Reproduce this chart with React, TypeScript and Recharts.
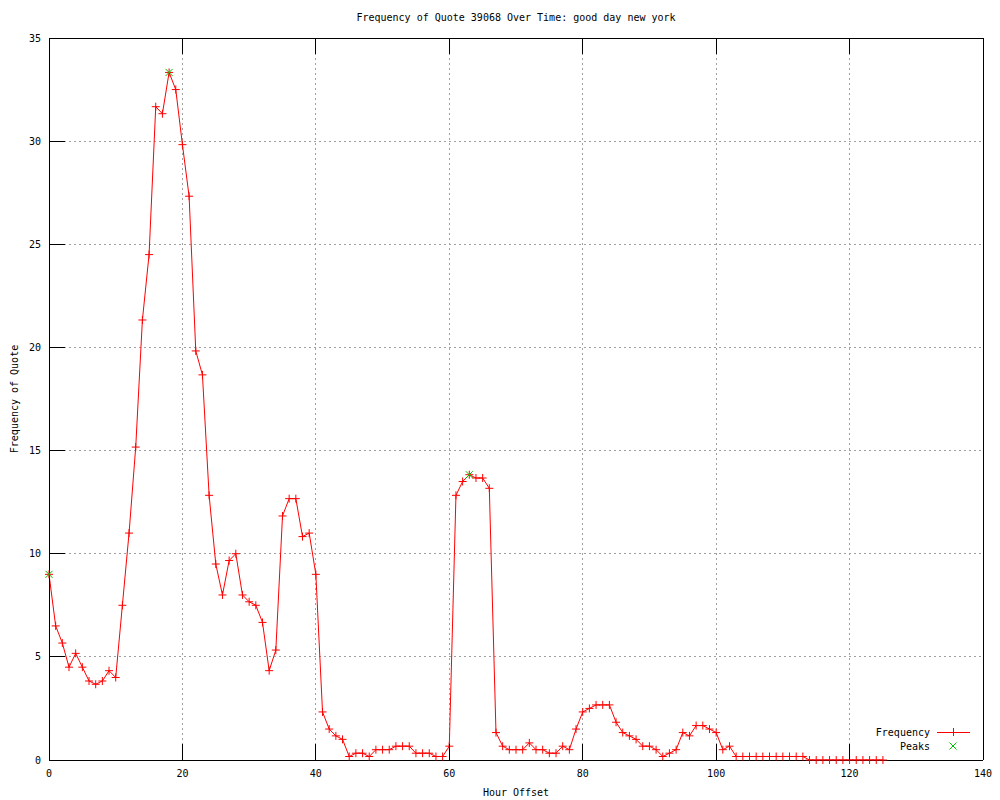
import { LineChart, Line, XAxis, YAxis, CartesianGrid, Legend } from 'recharts';

const FONT = '"DejaVu Sans Mono", "Liberation Mono", monospace';

const TITLE = 'Frequency of Quote 39068 Over Time: good day new york';
const X_LABEL = 'Hour Offset';
const Y_LABEL = 'Frequency of Quote';

const xTicks = [0, 20, 40, 60, 80, 100, 120, 140];
const yTicks = [0, 5, 10, 15, 20, 25, 30, 35];

const hours = [
  0, 1, 2, 3, 4, 5, 6, 7, 8, 9, 10, 11, 12, 13, 14, 15, 16, 17, 18, 19,
  20, 21, 22, 23, 24, 25, 26, 27, 28, 29, 30, 31, 32, 33, 34, 35, 36, 37, 38, 39,
  40, 41, 42, 43, 44, 45, 46, 47, 48, 49, 50, 51, 52, 53, 54, 55, 56, 57, 58, 59,
  60, 61, 62, 63, 64, 65, 66, 67, 68, 69, 70, 71, 72, 73, 74, 75, 76, 77, 78, 79,
  80, 81, 82, 83, 84, 85, 86, 87, 88, 89, 90, 91, 92, 93, 94, 95, 96, 97, 98, 99,
  100, 101, 102, 103, 104, 105, 106, 107, 108, 109, 110, 111, 112, 113, 114, 115, 116, 117, 118, 119,
  120, 121, 122, 123, 124, 125,
];

const frequency = [
  9.0, 6.5, 5.67, 4.5, 5.17, 4.5, 3.83, 3.67, 3.83, 4.33,
  4.0, 7.5, 11.0, 15.17, 21.33, 24.5, 31.67, 31.33, 33.33, 32.5,
  29.83, 27.33, 19.83, 18.67, 12.83, 9.5, 8.0, 9.67, 10.0, 8.0,
  7.67, 7.5, 6.67, 4.33, 5.33, 11.83, 12.67, 12.67, 10.83, 11.0,
  9.0, 2.33, 1.5, 1.17, 1.0, 0.17, 0.33, 0.33, 0.17, 0.5,
  0.5, 0.5, 0.67, 0.67, 0.67, 0.33, 0.33, 0.33, 0.17, 0.17,
  0.67, 12.83, 13.5, 13.83, 13.67, 13.67, 13.17, 1.33, 0.67, 0.5,
  0.5, 0.5, 0.83, 0.5, 0.5, 0.33, 0.33, 0.67, 0.5, 1.5,
  2.33, 2.5, 2.67, 2.67, 2.67, 1.83, 1.33, 1.17, 1.0, 0.67,
  0.67, 0.5, 0.17, 0.33, 0.5, 1.33, 1.17, 1.67, 1.67, 1.5,
  1.33, 0.5, 0.67, 0.17, 0.17, 0.17, 0.17, 0.17, 0.17, 0.17,
  0.17, 0.17, 0.17, 0.17, 0, 0, 0, 0, 0, 0,
  0, 0, 0, 0, 0, 0,
];

const peakHours = [0, 18, 63];
const peakValues = [9.0, 33.33, 13.83];

const chartData = hours.map((h, i) => {
  const p = peakHours.indexOf(h);
  return { hour: h, freq: frequency[i], peak: p >= 0 ? peakValues[p] : null };
});

const RED = '#ff0000';
const GREEN = '#00c000';
const TICK_LEN = 16;

function LeftTick({ x, y, payload }: any) {
  return (
    <g>
      <line x1={x} y1={y} x2={x + TICK_LEN} y2={y} stroke="#000" shapeRendering="crispEdges" />
      <text x={x - 8} y={y} dy={3.5} textAnchor="end" fontFamily={FONT} fontSize={10} fill="#000">
        {payload.value}
      </text>
    </g>
  );
}

function RightTick({ x, y }: any) {
  return <line x1={x} y1={y} x2={x - TICK_LEN} y2={y} stroke="#000" shapeRendering="crispEdges" />;
}

function BottomTick({ x, y, payload }: any) {
  return (
    <g>
      <line x1={x} y1={y} x2={x} y2={y - TICK_LEN} stroke="#000" shapeRendering="crispEdges" />
      <text x={x} y={y + 17} textAnchor="middle" fontFamily={FONT} fontSize={10} fill="#000">
        {payload.value}
      </text>
    </g>
  );
}

function TopTick({ x, y }: any) {
  return <line x1={x} y1={y} x2={x} y2={y + TICK_LEN} stroke="#000" shapeRendering="crispEdges" />;
}

function PlusDot({ cx, cy, index }: any) {
  if (cx == null || cy == null) return <g key={`f-${index}`} />;
  return (
    <path
      key={`f-${index}`}
      d={`M${cx - 4},${cy}h8M${cx},${cy - 4}v8`}
      stroke={RED}
      strokeWidth={1}
      fill="none"
    />
  );
}

function CrossDot({ cx, cy, index, value }: any) {
  if (value == null || cx == null || cy == null) return <g key={`p-${index}`} />;
  return (
    <path
      key={`p-${index}`}
      d={`M${cx - 3.5},${cy - 3.5}l7,7M${cx - 3.5},${cy + 3.5}l7,-7`}
      stroke={GREEN}
      strokeWidth={1}
      fill="none"
    />
  );
}

function renderLegend({ payload }: any) {
  return (
    <div style={{ fontFamily: FONT, fontSize: 10, color: '#000' }}>
      {(payload || []).map((entry: any) => (
        <div key={entry.value} style={{ display: 'flex', height: 14, alignItems: 'center' }}>
          <span style={{ width: 70, textAlign: 'right' }}>{entry.value}</span>
          <svg width={40} height={14}>
            {entry.dataKey === 'freq' ? (
              <path d="M7,7h33M23,3v8" stroke={RED} fill="none" shapeRendering="crispEdges" />
            ) : (
              <path d="M19.5,3.5l7,7M19.5,10.5l7,-7" stroke={GREEN} fill="none" />
            )}
          </svg>
        </div>
      ))}
    </div>
  );
}

export default function App() {
  return (
    <div style={{ position: 'absolute', left: 0, top: 0, width: 1000, height: 800, background: '#fff' }}>
      <LineChart width={1000} height={800} data={chartData} margin={{ top: 0, right: 0, bottom: 0, left: 0 }}>
        <CartesianGrid stroke="#a0a0a0" strokeDasharray="2 3" shapeRendering="crispEdges" />
        <XAxis
          dataKey="hour"
          type="number"
          domain={[0, 140]}
          ticks={xTicks}
          height={40}
          tickLine={false}
          tickSize={0}
          tickMargin={0}
          tick={<BottomTick />}
          axisLine={{ stroke: '#000', shapeRendering: 'crispEdges' }}
          interval={0}
          label={{
            content: ({ viewBox }: any) => (
              <text
                x={viewBox.x + viewBox.width / 2}
                y={viewBox.y + 36}
                textAnchor="middle"
                fontFamily={FONT}
                fontSize={10}
                fill="#000"
              >
                {X_LABEL}
              </text>
            ),
          }}
        />
        <XAxis
          xAxisId="top"
          orientation="top"
          dataKey="hour"
          type="number"
          domain={[0, 140]}
          ticks={xTicks}
          height={38}
          tickLine={false}
          tickSize={0}
          tickMargin={0}
          tick={<TopTick />}
          axisLine={{ stroke: '#000', shapeRendering: 'crispEdges' }}
          interval={0}
          label={{
            content: ({ viewBox }: any) => (
              <text
                x={viewBox.x + viewBox.width / 2}
                y={21}
                textAnchor="middle"
                fontFamily={FONT}
                fontSize={10}
                fill="#000"
              >
                {TITLE}
              </text>
            ),
          }}
        />
        <YAxis
          domain={[0, 35]}
          ticks={yTicks}
          width={49}
          tickLine={false}
          tickSize={0}
          tickMargin={0}
          tick={<LeftTick />}
          axisLine={{ stroke: '#000', shapeRendering: 'crispEdges' }}
          interval={0}
          label={{
            content: ({ viewBox }: any) => {
              const cx = 14;
              const cy = viewBox.y + viewBox.height / 2;
              return (
                <text
                  x={cx}
                  y={cy}
                  dy={3.5}
                  textAnchor="middle"
                  transform={`rotate(-90, ${cx}, ${cy})`}
                  fontFamily={FONT}
                  fontSize={10}
                  fill="#000"
                >
                  {Y_LABEL}
                </text>
              );
            },
          }}
        />
        <YAxis
          yAxisId="right"
          orientation="right"
          domain={[0, 35]}
          ticks={yTicks}
          width={17}
          tickLine={false}
          tickSize={0}
          tickMargin={0}
          tick={<RightTick />}
          axisLine={{ stroke: '#000', shapeRendering: 'crispEdges' }}
          interval={0}
        />
        <Legend
          content={renderLegend}
          layout="horizontal"
          verticalAlign="middle"
          align="center"
          wrapperStyle={{ left: 860, top: 725, width: 120 }}
        />
        <Line
          type="linear"
          dataKey="freq"
          name="Frequency"
          stroke={RED}
          strokeWidth={1}
          dot={PlusDot}
          activeDot={false}
          isAnimationActive={false}
        />
        <Line
          type="linear"
          dataKey="peak"
          name="Peaks"
          stroke="none"
          dot={CrossDot}
          activeDot={false}
          connectNulls={false}
          isAnimationActive={false}
        />
      </LineChart>
    </div>
  );
}
